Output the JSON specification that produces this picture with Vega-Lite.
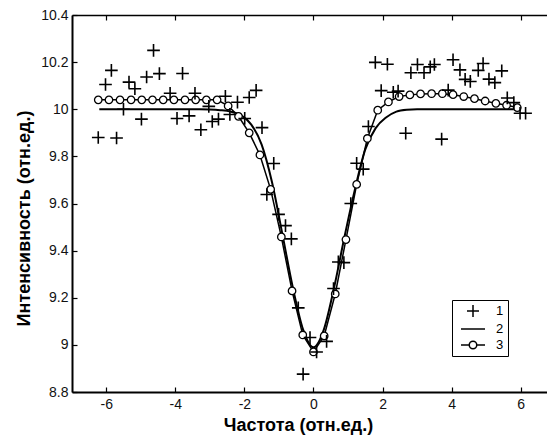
{
  "$schema": "https://vega.github.io/schema/vega-lite/v6.json",
  "width": 475,
  "height": 377,
  "autosize": {"type": "none"},
  "padding": {"left": 72, "top": 15, "right": 0, "bottom": 45},
  "background": "white",
  "resolve": {"axis": {"x": "independent", "y": "shared"}},
  "config": {
    "view": {"stroke": null},
    "axis": {
      "grid": false,
      "domainColor": "black",
      "tickColor": "black",
      "labelColor": "#111111",
      "labelFont": "Liberation Sans",
      "labelFontSize": 14,
      "titleFont": "Liberation Sans",
      "titleFontSize": 18,
      "titleFontWeight": "bold",
      "titleColor": "black"
    }
  },
  "datasets": {
    "meas": [
      {"x": -6.23, "y": 9.88}, {"x": -6.02, "y": 10.105}, {"x": -5.85, "y": 10.165}, {"x": -5.7, "y": 9.878},
      {"x": -5.5, "y": 10.0}, {"x": -5.34, "y": 10.115}, {"x": -5.17, "y": 10.087}, {"x": -4.98, "y": 9.958},
      {"x": -4.83, "y": 10.137}, {"x": -4.63, "y": 10.25}, {"x": -4.46, "y": 10.151}, {"x": -4.15, "y": 10.068},
      {"x": -3.95, "y": 9.961}, {"x": -3.79, "y": 10.152}, {"x": -3.6, "y": 9.972}, {"x": -3.43, "y": 10.068},
      {"x": -3.26, "y": 9.913}, {"x": -3.03, "y": 10.012}, {"x": -2.93, "y": 9.948}, {"x": -2.75, "y": 9.958},
      {"x": -2.55, "y": 10.055}, {"x": -2.42, "y": 9.978}, {"x": -2.2, "y": 10.03}, {"x": -1.99, "y": 9.961},
      {"x": -1.86, "y": 10.05}, {"x": -1.66, "y": 10.08}, {"x": -1.49, "y": 9.922}, {"x": -1.35, "y": 9.638},
      {"x": -1.15, "y": 9.77}, {"x": -1.01, "y": 9.554}, {"x": -0.81, "y": 9.506}, {"x": -0.64, "y": 9.45},
      {"x": -0.44, "y": 9.157}, {"x": -0.3, "y": 8.876}, {"x": -0.1, "y": 9.031}, {"x": 0.09, "y": 8.97},
      {"x": 0.38, "y": 9.015}, {"x": 0.58, "y": 9.239}, {"x": 0.72, "y": 9.352}, {"x": 0.88, "y": 9.349},
      {"x": 1.08, "y": 9.6}, {"x": 1.25, "y": 9.771}, {"x": 1.44, "y": 9.746}, {"x": 1.59, "y": 9.927},
      {"x": 1.79, "y": 10.199}, {"x": 1.96, "y": 10.079}, {"x": 2.14, "y": 10.191}, {"x": 2.31, "y": 10.072},
      {"x": 2.45, "y": 10.077}, {"x": 2.67, "y": 9.898}, {"x": 2.82, "y": 10.155}, {"x": 3.01, "y": 10.19},
      {"x": 3.2, "y": 10.155}, {"x": 3.38, "y": 10.18}, {"x": 3.5, "y": 10.19}, {"x": 3.71, "y": 9.873},
      {"x": 3.9, "y": 10.081}, {"x": 4.04, "y": 10.21}, {"x": 4.24, "y": 10.167}, {"x": 4.39, "y": 10.127},
      {"x": 4.54, "y": 10.118}, {"x": 4.77, "y": 10.165}, {"x": 4.91, "y": 10.194}, {"x": 5.08, "y": 10.128},
      {"x": 5.25, "y": 10.113}, {"x": 5.45, "y": 10.163}, {"x": 5.61, "y": 10.048}, {"x": 5.8, "y": 10.028},
      {"x": 5.98, "y": 9.983}, {"x": 6.14, "y": 9.983}
    ],
    "fit": [
      {"x": -6.2, "y": 10.0}, {"x": -3.3, "y": 10.0}, {"x": -3.0, "y": 9.999}, {"x": -2.7, "y": 9.996},
      {"x": -2.4, "y": 9.99}, {"x": -2.1, "y": 9.975}, {"x": -1.8, "y": 9.935}, {"x": -1.5, "y": 9.85},
      {"x": -1.2, "y": 9.69}, {"x": -0.9, "y": 9.47}, {"x": -0.6, "y": 9.245}, {"x": -0.3, "y": 9.065},
      {"x": 0.0, "y": 8.99}, {"x": 0.3, "y": 9.065}, {"x": 0.6, "y": 9.245}, {"x": 0.9, "y": 9.46},
      {"x": 1.2, "y": 9.66}, {"x": 1.5, "y": 9.83}, {"x": 1.8, "y": 9.92}, {"x": 2.1, "y": 9.965},
      {"x": 2.4, "y": 9.99}, {"x": 2.7, "y": 9.998}, {"x": 3.0, "y": 10.0}, {"x": 6.0, "y": 10.0}
    ],
    "sim": [
      {"x": -6.23, "y": 10.04}, {"x": -5.92, "y": 10.04}, {"x": -5.6, "y": 10.04}, {"x": -5.28, "y": 10.04},
      {"x": -4.97, "y": 10.04}, {"x": -4.66, "y": 10.04}, {"x": -4.35, "y": 10.04}, {"x": -4.04, "y": 10.04},
      {"x": -3.72, "y": 10.04}, {"x": -3.41, "y": 10.04}, {"x": -3.1, "y": 10.04}, {"x": -2.79, "y": 10.04},
      {"x": -2.47, "y": 10.014}, {"x": -2.17, "y": 9.97}, {"x": -1.86, "y": 9.9}, {"x": -1.55, "y": 9.806},
      {"x": -1.24, "y": 9.66}, {"x": -0.93, "y": 9.458}, {"x": -0.62, "y": 9.229}, {"x": -0.31, "y": 9.042},
      {"x": 0.0, "y": 8.97}, {"x": 0.31, "y": 9.038}, {"x": 0.63, "y": 9.216}, {"x": 0.94, "y": 9.447},
      {"x": 1.25, "y": 9.681}, {"x": 1.56, "y": 9.876}, {"x": 1.86, "y": 9.996}, {"x": 2.17, "y": 10.031},
      {"x": 2.48, "y": 10.054}, {"x": 2.79, "y": 10.061}, {"x": 3.1, "y": 10.065}, {"x": 3.42, "y": 10.066},
      {"x": 3.73, "y": 10.066}, {"x": 4.04, "y": 10.062}, {"x": 4.35, "y": 10.054}, {"x": 4.66, "y": 10.045},
      {"x": 4.97, "y": 10.035}, {"x": 5.28, "y": 10.025}, {"x": 5.59, "y": 10.017}, {"x": 5.9, "y": 10.007}
    ],
    "legend": [{"s": "1"}, {"s": "2"}, {"s": "3"}]
  },
  "layer": [
    {
      "data": {"name": "fit"},
      "mark": {"type": "line", "color": "black", "strokeWidth": 2, "interpolate": "monotone"},
      "encoding": {
        "x": {
          "field": "x", "type": "quantitative",
          "scale": {"domain": [-6.99, 6.76], "nice": false, "zero": false},
          "axis": {
            "orient": "bottom",
            "values": [-6, -4, -2, 0, 2, 4, 6],
            "labelExpr": "'' + datum.value",
            "tickSize": -5, "tickWidth": 1.2, "domainWidth": 2, "labelPadding": 10,
            "title": "Частота (отн.ед.)",
            "titleX": 226, "titleY": 38, "titleAlign": "center", "titleBaseline": "alphabetic"
          }
        },
        "y": {
          "field": "y", "type": "quantitative",
          "scale": {"domain": [8.8, 10.4], "nice": false, "zero": false},
          "axis": {
            "orient": "left",
            "values": [8.8, 9, 9.2, 9.4, 9.6, 9.8, 10, 10.2, 10.4],
            "labelExpr": "'' + datum.value",
            "tickSize": -5, "tickWidth": 1.2, "domainWidth": 2, "labelPadding": 9,
            "title": "Интенсивность (отн.ед.)",
            "titleX": -43, "titleY": 203, "titleAngle": -90, "titleAlign": "center", "titleBaseline": "alphabetic"
          }
        }
      }
    },
    {
      "data": {"name": "sim"},
      "mark": {"type": "line", "color": "black", "strokeWidth": 1.5},
      "encoding": {
        "x": {
          "field": "x", "type": "quantitative",
          "axis": {
            "orient": "top", "values": [-6, -4, -2, 0, 2, 4, 6], "labels": false, "title": null,
            "tickSize": -5, "tickWidth": 1.2, "domainWidth": 1.5
          }
        },
        "y": {"field": "y", "type": "quantitative"}
      }
    },
    {
      "data": {"name": "sim"},
      "mark": {"type": "point", "shape": "circle", "size": 56, "filled": true, "fill": "white", "stroke": "black", "strokeWidth": 1.3, "opacity": 1},
      "encoding": {
        "x": {"field": "x", "type": "quantitative", "axis": null},
        "y": {"field": "y", "type": "quantitative"}
      }
    },
    {
      "data": {"name": "meas"},
      "mark": {"type": "point", "shape": "M-1,0L1,0M0,-1L0,1", "size": 160, "filled": false, "stroke": "black", "strokeWidth": 1.6, "opacity": 1},
      "encoding": {
        "x": {"field": "x", "type": "quantitative", "axis": null},
        "y": {"field": "y", "type": "quantitative"}
      }
    },
    {
      "data": {"name": "legend"},
      "transform": [{"filter": "false"}],
      "mark": {"type": "point", "size": 144, "filled": false, "stroke": "black", "strokeWidth": 1.5, "opacity": 1},
      "encoding": {
        "shape": {
          "field": "s", "type": "nominal",
          "scale": {
            "domain": ["1", "2", "3"],
            "range": [
              "M-1,0L1,0M0,-1L0,1",
              "M-2,0L2,0",
              "M-2,0L-0.625,0M0.625,0L2,0M0.625,0A0.625,0.625,0,1,1,-0.625,0A0.625,0.625,0,1,1,0.625,0"
            ]
          },
          "legend": {
            "orient": "none", "legendX": 380, "legendY": 285, "title": null,
            "strokeColor": "black", "padding": 4,
            "symbolSize": 144, "symbolStrokeWidth": 1.5, "symbolStrokeColor": "black",
            "symbolOffset": 10,
            "labelFont": "Liberation Sans", "labelFontSize": 13, "labelColor": "black", "labelOffset": 16,
            "labelExpr": "datum.label + '\u2007\u2007'",
            "rowPadding": 2
          }
        }
      }
    }
  ]
}
